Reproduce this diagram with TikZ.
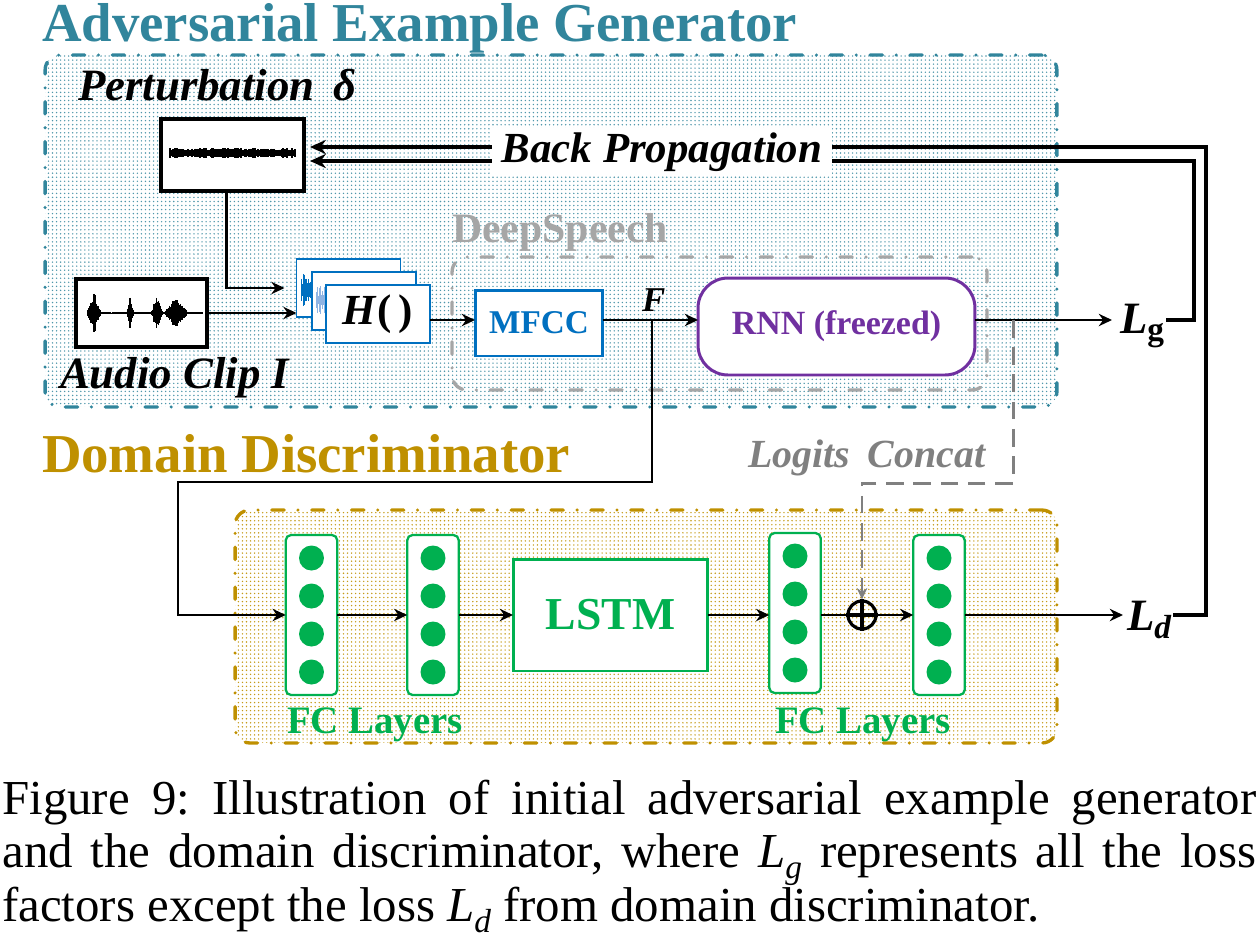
\documentclass[tikz,border=0pt]{standalone}
\usepackage{fontspec}
\setmainfont{Liberation Serif}
\usepackage{graphicx}
\usetikzlibrary{arrows.meta,calc,patterns.meta}
\definecolor{tealc}{HTML}{31859C}
\definecolor{goldc}{HTML}{BF9000}
\definecolor{greenc}{HTML}{00B050}
\definecolor{bluec}{HTML}{0070C0}
\definecolor{lbluec}{HTML}{8FB4E3}
\definecolor{purplec}{HTML}{7030A0}
\definecolor{grayc}{HTML}{A6A6A6}
\definecolor{dgrayc}{HTML}{808080}
\newcommand\fs[2]{\fontsize{#1pt}{#2pt}\selectfont}
\newcommand\capsub[1]{\raisebox{-0.22em}{\fontsize{19pt}{19pt}\selectfont\textit{#1}}}
\begin{document}
\begin{tikzpicture}[x=0.02cm,y=-0.02cm,
  box/.style={draw, inner sep=0, outer sep=0, fill=white},
  arr/.style={line width=1.6pt, -{Stealth[length=7.5pt,width=7pt]}},
  loopline/.style={line width=2.4pt, -{Stealth[length=9pt,width=8pt]}},
  dashdot/.style={dash pattern=on 7pt off 7.85pt on 0pt off 7.85pt, line cap=round, line width=1.9pt},
  graydash/.style={draw=dgrayc, line width=1.7pt, dash pattern=on 10pt off 5.5pt, -{Stealth[length=6.5pt,width=6pt]}},
  fcbox/.style={draw=greenc, line width=1.3pt, rounded corners=3pt, fill=white, minimum width=1.03cm, minimum height=3.2cm, inner sep=0, outer sep=0},
  neuron/.style={circle, fill=greenc, minimum size=0.5cm, inner sep=0},
  lbl/.style={inner sep=0, outer sep=0, anchor=base west},
  hbox/.style={draw=bluec, line width=1.1pt, fill=white, minimum width=2.08cm, minimum height=1.16cm, inner sep=0, outer sep=0}
]
\useasboundingbox (0,0) rectangle (1259,941);

% ---- group frames
\node[draw=tealc, dashdot, rounded corners=0.3cm, minimum width=20.24cm, minimum height=7.04cm,
      pattern={Dots[radius=0.45pt,distance=2.3pt]}, pattern color=tealc!85] (gen) at (551,231) {};
\node[draw=goldc, dashdot, rounded corners=0.3cm, minimum width=16.44cm, minimum height=4.66cm,
      pattern={Dots[radius=0.45pt,distance=2.3pt]}, pattern color=goldc!90] (disc) at (646,626.5) {};
\node[draw=grayc, dashdot, rounded corners=0.3cm, minimum width=10.7cm, minimum height=2.66cm] (deep) at (719.5,323.5) {};

% ---- titles
\node[lbl, text=tealc] (gtitle) at (42,41) {\fs{31.2}{36}\bfseries Adversarial Example Generator};
\node[lbl, text=goldc] (dtitle) at (42,472) {\fs{31.2}{36}\bfseries Domain Discriminator};
\node[lbl] (pertlbl) at (78,100) {\fs{25.5}{30}\bfseries\itshape Perturbation\, δ};
\node[lbl] (audiolbl) at (60,388) {\fs{25.5}{30}\bfseries\itshape Audio Clip I};
\node[lbl, text=grayc] (deeplbl) at (452,242) {\fs{23.8}{28}\bfseries DeepSpeech};

% ---- perturbation box with noise
\node[box, line width=1.9pt, minimum width=2.86cm, minimum height=1.44cm] (pert) at (232.5,155) {};
\pgfmathsetseed{7}
\foreach \i in {0,...,125}{
  \pgfmathsetmacro\xx{170+\i*1.0}
  \pgfmathsetmacro\hh{2.6+2.2*rnd}
  \draw[line width=1.1pt] (\xx,{153-\hh}) -- (\xx,{153+\hh});
}

% ---- audio clip box with waveform
\node[box, line width=1.9pt, minimum width=2.62cm, minimum height=1.36cm] (audio) at (141.5,313) {};
\foreach \i in {0,...,150}{
  \pgfmathsetmacro\xx{88+\i*0.76}
  \pgfmathsetmacro\env{0.8+20*max(0,1-abs(\xx-94)/7)+17*max(0,1-abs(\xx-130)/3.5)+16*max(0,1-abs(\xx-157)/6)+15*max(0,1-abs(\xx-176)/12)}
  \pgfmathsetmacro\hh{\env*(0.6+0.4*rnd)}
  \draw[line width=0.8pt] (\xx,{313-\hh}) -- (\xx,{313+\hh});
}

% ---- H() stack
\node[hbox] (hback) at (348.5,288) {};
\foreach \i in {0,...,14}{
  \pgfmathsetmacro\xx{301+\i*0.8}
  \pgfmathsetmacro\hh{4+18*rnd*max(0,1-\i/16)}
  \draw[bluec, line width=0.5pt] (\xx,{290-\hh}) -- (\xx,{290+\hh});
}
\node[hbox] (hmid) at (364,301) {};
\foreach \i in {0,...,11}{
  \pgfmathsetmacro\xx{316+\i*0.8}
  \pgfmathsetmacro\hh{3+11*rnd}
  \draw[lbluec, line width=0.5pt] (\xx,{300-\hh}) -- (\xx,{300+\hh});
}
\node[hbox] (hfront) at (378,314) {\fs{24.4}{28}\bfseries\textit{H}(\,)};

% ---- DeepSpeech contents
\node[box, draw=bluec, line width=1.7pt, minimum width=2.56cm, minimum height=1.32cm, text=bluec] (mfcc) at (539,323) {\fs{18.9}{22}\bfseries MFCC};
\node[box, draw=purplec, line width=1.7pt, rounded corners=0.6cm, minimum width=5.54cm, minimum height=1.94cm, text=purplec] (rnn) at (836.5,326.5) {\fs{19.3}{22}\bfseries RNN (freezed)};
\node[lbl] (flbl) at (642,311) {\fs{19.8}{24}\bfseries\itshape F};
\coordinate (fj) at (652,320);

% ---- losses
\node[lbl] (Lg) at (1120,333) {\fs{25.5}{30}\bfseries\itshape L\raisebox{-0.14cm}{\fs{19}{22}\upshape g}};
\node[lbl] (Ld) at (1127,630) {\fs{25.5}{30}\bfseries\itshape L\raisebox{-0.16cm}{\fs{19}{22}d}};

% ---- discriminator contents
\node[fcbox] (fc1) at (311.5,615) {};
\node[fcbox] (fc2) at (433,615) {};
\node[box, draw=greenc, line width=1.7pt, minimum width=3.9cm, minimum height=2.24cm, text=greenc] (lstm) at (610.5,615) {\fs{26}{30}\bfseries LSTM};
\node[fcbox] (fc3) at (795,613) {};
\node[fcbox] (fc4) at (939,615) {};
\foreach \f in {fc1,fc2,fc3,fc4}{
  \foreach \o [count=\k] in {-57,-19,19,57}{
    \node[neuron] (\f-\k) at ($(\f.center)+(0,\o)$) {};
  }
}
\node[circle, draw, line width=1.8pt, minimum size=0.56cm, inner sep=0] (plus) at (862,615) {};
\draw[line width=1.8pt] (plus.north) -- (plus.south) (plus.west) -- (plus.east);
\node[lbl, text=greenc] (fcl1) at (287,733) {\fs{22.1}{26}\bfseries FC Layers};
\node[lbl, text=greenc] (fcl2) at (775,733) {\fs{22.1}{26}\bfseries FC Layers};
\node[lbl, text=dgrayc] (logits) at (748,467) {\fs{22.7}{26}\bfseries\itshape Logits\hspace{0.45em}Concat};

% ---- connectors (generator)
\draw[arr, shorten >=0.24cm] ($(pert.south)+(-6,0)$) |- (hback.west);
\draw[arr] (audio.east) -- (audio.east -| hback.west);
\draw[arr] (hfront.east |- fj) -- (mfcc.west |- fj);
\draw[arr] (mfcc.east |- fj) -- (rnn.west |- fj);
\draw[arr] (rnn.east |- fj) -- ($(Lg.west |- fj)+(-8,0)$);
\coordinate (bend) at (178,482);
\draw[arr] (fj) |- (bend) |- (fc1.west);

% ---- connectors (discriminator)
\draw[arr] (fc1.east) -- (fc2.west);
\draw[arr] (fc2.east) -- (lstm.west);
\draw[arr] (lstm.east) -- (lstm.east -| fc3.west);
\draw[line width=1.6pt] (lstm.east -| fc3.east) -- (plus.west);
\draw[arr] (plus.east) -- (fc4.west);
\draw[arr] (fc4.east) -- ($(Ld.west |- fc4.east)+(-4,0)$);

% ---- logits concat (gray dashed)
\coordinate (lcstart) at (1013,320);
\coordinate (lcbend) at (1013,483);
\draw[graydash] (lcstart) -- (lcbend) -| (plus.north);

% ---- back propagation loops
\draw[loopline, shorten >=0.12cm] ($(Ld.east |- fc4.east)+(2,0)$) -- ++(33,0) |- ($(pert.east)+(0,-8)$);
\draw[loopline, shorten >=0.12cm] ($(Lg.east |- fj)+(2,0)$) -- ++(28,0) |- ($(pert.east)+(0,6)$);
\node[fill=white, inner xsep=0.2cm, inner ysep=0.1cm] (bp) at (662,152) {\fs{24.4}{28}\bfseries\itshape Back Propagation};

% ---- caption
\node[anchor=base west, inner sep=0] (cap) at (2,814) {\parbox[t]{25.08cm}{\frenchspacing\fs{27.8}{30.6}Figure 9: Illustration of initial adversarial example generator\linebreak and the domain discriminator, where \textit{L}\capsub{g} represents all the loss\linebreak factors except the loss \textit{L}\capsub{d} from domain discriminator.}};
\end{tikzpicture}
\end{document}
